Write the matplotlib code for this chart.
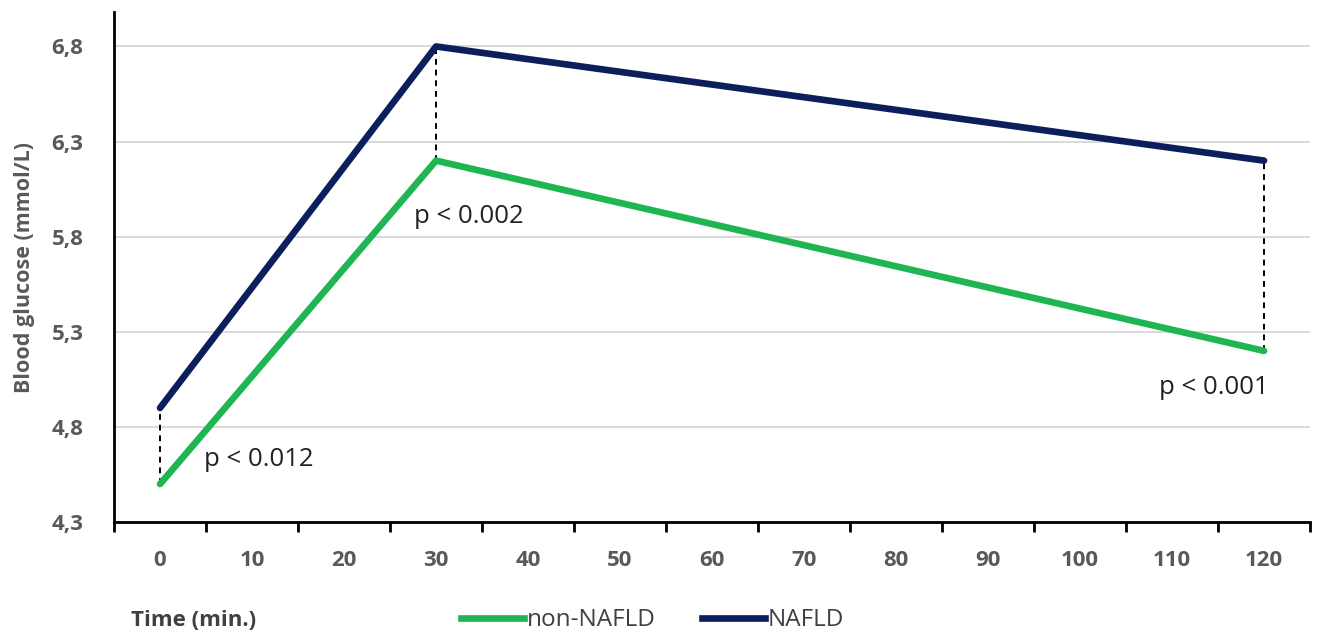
import numpy as np
import matplotlib.pyplot as plt
from matplotlib.lines import Line2D

plt.rcParams['font.family'] = ['Open Sans', 'DejaVu Sans']

# data
times = [0, 30, 120]
non_nafld = [4.5, 6.2, 5.2]
nafld = [4.9, 6.8, 6.2]
x_ticks = list(range(0, 121, 10))
y_ticks = [4.3, 4.8, 5.3, 5.8, 6.3, 6.8]
y_labels = ['4,3', '4,8', '5,3', '5,8', '6,3', '6,8']
p_texts = ['p < 0.012', 'p < 0.002', 'p < 0.001']

green = '#1fb552'
navy = '#0c1f5c'
gray = '#595959'

fig = plt.figure(figsize=(13.23, 6.43), dpi=100)
ax = fig.add_axes([0.0862, 0.188, 0.904, 0.793])

ax.grid(axis='y', color='#d9d9d9', linewidth=1.4, zorder=0)
ax.set_axisbelow(True)

# dashed connectors between the groups
for t, a, b in zip(times, non_nafld, nafld):
    ax.plot([t, t], [a, b], color='black', linestyle=(0, (3, 2.5)), linewidth=1.4, zorder=2)

ax.plot(times, non_nafld, color=green, linewidth=4.8, solid_capstyle='round', zorder=3)
ax.plot(times, nafld, color=navy, linewidth=4.8, solid_capstyle='round', zorder=3)

# p-value labels
p_pos = [(4.8, 4.63), (27.6, 5.905), (108.6, 5.005)]
for txt, (px, py) in zip(p_texts, p_pos):
    ax.text(px, py, txt, fontsize=18.5, color='#222222', ha='left', va='center')

ax.set_xlim(-5, 125)
ax.set_ylim(4.3, 6.98)

ax.set_xticks(x_ticks)
ax.set_xticklabels([str(v) for v in x_ticks], fontsize=16, fontweight='bold', color=gray)
ax.tick_params(axis='x', which='major', length=0, pad=20)
ax.set_xticks(np.arange(-5, 126, 10), minor=True)
ax.tick_params(axis='x', which='minor', length=7, width=2, color='black', direction='out')

ax.set_yticks(y_ticks)
ax.set_yticklabels(y_labels, fontsize=16, fontweight='bold', color=gray)
ax.tick_params(axis='y', length=0, pad=22)

for s in ['top', 'right']:
    ax.spines[s].set_visible(False)
for s in ['left', 'bottom']:
    ax.spines[s].set_linewidth(2)
    ax.spines[s].set_color('black')

ax.set_ylabel('Blood glucose (mmol/L)', fontsize=15.5, fontweight='bold', color=gray, labelpad=12)

fig.text(0.099, 0.035, 'Time (min.)', fontsize=16, fontweight='bold', color='#404040', ha='left', va='center')

handles = [Line2D([0], [0], color=green, linewidth=4.8),
           Line2D([0], [0], color=navy, linewidth=4.8)]
fig.legend(handles, ['non-NAFLD', 'NAFLD'], loc='center', bbox_to_anchor=(0.493, 0.035),
           ncol=2, frameon=False, fontsize=17.5, handlelength=2.6, handletextpad=0.1,
           columnspacing=1.9, labelcolor='#404040')

fig.savefig('out.png', dpi=100)
